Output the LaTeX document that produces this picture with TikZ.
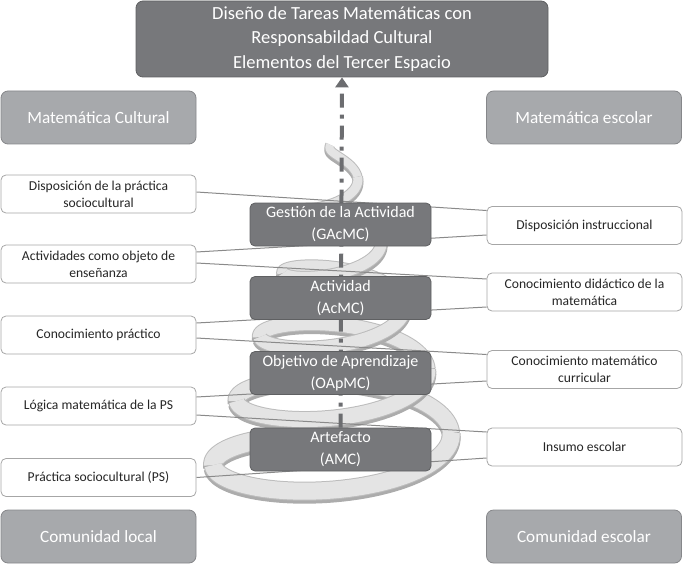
\documentclass[tikz,border=0pt]{standalone}
\usepackage{fontspec}
\setmainfont{Carlito}
\usetikzlibrary{arrows.meta,backgrounds}

\definecolor{boxdark}{RGB}{119,120,123}
\definecolor{boxlight}{RGB}{167,169,172}
\definecolor{linegray}{RGB}{138,138,138}
\definecolor{ribbonface}{RGB}{228,228,228}
\definecolor{ribbonedge}{RGB}{188,188,188}
\definecolor{ribbonshade}{RGB}{172,172,172}
\definecolor{spinegray}{RGB}{108,109,112}

% one half turn of the spiral ribbon: from, to, face width, edge width
\newcommand{\spiralpart}[4]{%
\draw [color=ribbonshade, line width=#4pt, yshift=-3pt] plot [domain=#1:#2, samples=50] ({338+(78+0.065*(\x-990))*sin(\x)}, {337+0.178*(\x-990)-0.34*(78+0.065*(\x-990))*cos(\x)});
\draw [color=ribbonedge, line width=#4pt] plot [domain=#1:#2, samples=50] ({338+(78+0.065*(\x-990))*sin(\x)}, {337+0.178*(\x-990)-0.34*(78+0.065*(\x-990))*cos(\x)});
\draw [color=ribbonface, line width=#3pt] plot [domain=#1:#2, samples=50] ({338+(78+0.065*(\x-990))*sin(\x)}, {337+0.178*(\x-990)-0.34*(78+0.065*(\x-990))*cos(\x)});
}

\begin{document}
\begin{tikzpicture}[x=1pt, y=-1pt,
  topbox/.style={fill=boxdark, draw=boxdark!80!black, line width=0.8pt, rounded corners=7pt, text=white, align=center, inner sep=0pt, minimum width=412pt, minimum height=76pt, font=\fontsize{18.5}{24.5}\selectfont},
  headbox/.style={fill=boxlight, draw=boxlight!80!black, line width=0.8pt, rounded corners=7pt, text=white, align=center, inner sep=0pt, minimum width=195pt, minimum height=53pt, font=\fontsize{17.2}{20}\selectfont},
  midbox/.style={fill=boxdark, draw=boxdark!80!black, line width=0.8pt, rounded corners=5pt, text=white, align=center, inner sep=0pt, minimum width=181pt, minimum height=43pt, font=\fontsize{16}{22}\selectfont},
  itembox/.style={fill=white, draw=gray!70, line width=0.8pt, rounded corners=5pt, text=black!85, align=center, inner sep=0pt, minimum width=195pt, minimum height=38pt, font=\fontsize{13.6}{17}\selectfont},
  link/.style={color=linegray, line width=1pt},
  spine/.style={color=spinegray, line width=4pt, dash pattern=on 14pt off 7pt on 4pt off 7pt, -{Triangle[width=13pt,length=10pt]}}]

\useasboundingbox (0,0) rectangle (684,564);

\node [topbox] (title) at (342,39) {Diseño de Tareas Matemáticas con\\Responsabildad Cultural\\Elementos del Tercer Espacio};

\node [headbox] (cultural) at (98.5,117.5) {Matemática Cultural};
\node [headbox] (escolar) at (584,117.5) {Matemática escolar};
\node [headbox] (local) at (98.5,536.5) {Comunidad local};
\node [headbox] (escuela) at (584,536.5) {Comunidad escolar};

% left column
\node [itembox] (lf1) at (98.5,194) {Disposición de la práctica\\sociocultural};
\node [itembox] (lf2) at (98.5,264) {Actividades como objeto de\\enseñanza};
\node [itembox] (lf3) at (98.5,335) {Conocimiento práctico};
\node [itembox] (lf4) at (98.5,406) {Lógica matemática de la PS};
\node [itembox] (lf5) at (98.5,477.5) {Práctica sociocultural (PS)};

% right column
\node [itembox] (rt1) at (584.5,225.5) {Disposición instruccional};
\node [itembox] (rt2) at (584.5,292) {Conocimiento didáctico de la\\matemática};
\node [itembox] (rt3) at (584.5,369.5) {Conocimiento matemático\\curricular};
\node [itembox] (rt4) at (584.5,447) {Insumo escolar};

% middle
\node [midbox] (gest) at (340.5,224.5) {Gestión de la Actividad\\(GAcMC)};
\node [midbox] (activ) at (340.5,298) {Actividad\\(AcMC)};
\node [midbox] (objet) at (340.5,373) {Objetivo de Aprendizaje\\(OApMC)};
\node [midbox] (art) at (340.5,449.5) {Artefacto\\(AMC)};

\begin{pgfonlayer}{background}
% back halves of the spiral first
\spiralpart{-90}{90}{8}{10}
\spiralpart{270}{450}{10}{12}
\spiralpart{630}{810}{12}{14}
\spiralpart{990}{1170}{14}{16}
\spiralpart{1350}{1530}{16}{18}
\spiralpart{1710}{1800}{18}{20}
% front halves
\spiralpart{90}{270}{9}{11}
\spiralpart{450}{630}{11}{13}
\spiralpart{810}{990}{13}{15}
\spiralpart{1170}{1350}{15}{17}
\spiralpart{1530}{1710}{17}{19}

\draw [link] ([yshift=2pt]lf1.east) -- ([yshift=15pt]rt1.west);
\draw [link] ([yshift=12pt]lf2.east) -- ([yshift=-9.5pt]rt1.west);
\draw [link] ([yshift=1pt]lf2.east) -- ([yshift=13pt]rt2.west);
\draw [link] ([yshift=12pt]lf3.east) -- ([yshift=-15pt]rt2.west);
\draw [link] ([yshift=-3pt]lf3.east) -- ([yshift=15pt]rt3.west);
\draw [link] ([yshift=9pt]lf4.east) -- ([yshift=-11.5pt]rt3.west);
\draw [link] ([yshift=-9pt]lf4.east) -- ([yshift=15pt]rt4.west);
\draw [link] (lf5.east) -- ([yshift=-11pt]rt4.west);

\draw [spine] (art.north) -- (title.south);
\end{pgfonlayer}

\end{tikzpicture}
\end{document}
